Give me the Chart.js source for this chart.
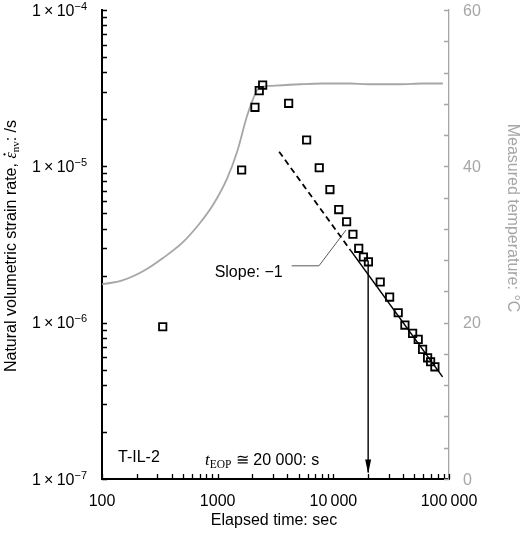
<!DOCTYPE html>
<html>
<head>
<meta charset="utf-8">
<script src="https://cdn.jsdelivr.net/npm/chart.js@4.4.1/dist/chart.umd.min.js"></script>
<style>
  html, body { margin: 0; padding: 0; background: #fff; }
</style>
</head>
<body>
<canvas id="chart" width="520" height="535"></canvas>
<script>
(function () {
  "use strict";

  // measured strain rate (open squares)
  const RATE_TIME = [335, 1612, 2101, 2289, 2449, 4109, 5877, 7552, 9346, 11135, 13030, 14770, 16580,
    18200, 20110, 25430, 30670, 36380, 41570, 48470, 54180, 59130, 65320, 69340, 75520];
  const RATE_VALUE = [9.41e-7, 9.47e-6, 2.385e-5, 3.05e-5, 3.31e-5, 2.53e-5, 1.474e-5, 9.8e-6, 7.1e-6,
    5.29e-6, 4.42e-6, 3.68e-6, 2.99e-6, 2.63e-6, 2.45e-6, 1.82e-6, 1.458e-6, 1.157e-6, 9.65e-7,
    8.54e-7, 7.82e-7, 6.75e-7, 5.96e-7, 5.62e-7, 5.22e-7];

  // measured temperature (grey line, right axis)
  const TEMP_TIME = [100, 150, 228, 339, 501, 703, 910, 1202, 1468, 1791, 2032, 2228, 2477,
    3000, 5140, 8000, 13900, 20000, 37700, 60000, 88500];
  const TEMP_VALUE = [24.9, 25.4, 26.6, 28.3, 30.3, 32.75, 35.05, 38.4, 41.8, 46.4, 48.7, 49.9, 50.2,
    50.3, 50.5, 50.6, 50.6, 50.5, 50.5, 50.6, 50.6];

  // slope -1 line
  const FIT_DASH_TIME = [3400, 14000];
  const FIT_DASH_VALUE = [1.24e-5, 2.92e-6];
  const FIT_SOLID_TIME = [14000, 88000];
  const FIT_SOLID_VALUE = [2.92e-6, 4.5e-7];

  // t_EOP arrow and slope callout
  const ARROW_TIME = [20000, 20000];
  const ARROW_VALUE = [2.5e-6, 1.1e-7];
  const CALLOUT_TIME = [4365, 7515, 12860];
  const CALLOUT_VALUE = [2.31e-6, 2.31e-6, 3.91e-6];

  // axes
  const X_TICKS = [100, 1000, 10000, 100000];
  const X_TICK_LABELS = ["100", "1000", "10\u2009000", "100\u2009000"];
  const Y_TICKS = [1e-7, 1e-6, 1e-5, 1e-4];
  const Y_TICK_EXP = ["\u22127", "\u22126", "\u22125", "\u22124"];
  const T_TICKS = [0, 20, 40, 60];
  const T_MINOR_STEP = 4;

  const GREY = "#a6a6a6";
  const SANS = "'Liberation Sans', Arial, sans-serif";
  const SERIF = "'Liberation Serif', 'Times New Roman', serif";

  const pts = (xs, ys) => xs.map((x, i) => ({ x: x, y: ys[i] }));

  // draw a run of differently styled text pieces
  function drawRun(ctx, parts, x, y, align, angle) {
    ctx.save();
    ctx.translate(x, y);
    if (angle) ctx.rotate(angle);
    ctx.textAlign = "left";
    ctx.textBaseline = "alphabetic";
    let total = 0;
    parts.forEach((p) => { ctx.font = p.font; p.w = ctx.measureText(p.text).width; total += p.w; });
    let cx = align === "center" ? -total / 2 : align === "right" ? -total : 0;
    parts.forEach((p) => {
      ctx.font = p.font;
      ctx.fillText(p.text, cx, p.dy || 0);
      if (p.dot) {
        ctx.beginPath();
        ctx.arc(cx + p.w / 2 + 1, -11.5, 1.1, 0, Math.PI * 2);
        ctx.fill();
      }
      cx += p.w;
    });
    ctx.restore();
  }

  const decorations = {
    id: "decorations",
    afterDraw(chart) {
      const ctx = chart.ctx;
      const sx = chart.scales.x, sy = chart.scales.y, st = chart.scales.t;
      const a = chart.chartArea;
      ctx.save();

      // inward tick marks
      ctx.lineWidth = 1.3;
      ctx.strokeStyle = "#000";
      ctx.beginPath();
      for (let e = 2; e <= 5; e++) {
        for (let m = 1; m <= 9; m++) {
          const v = m * Math.pow(10, e);
          if (v > 100000) break;
          const px = Math.round(sx.getPixelForValue(v)) + 0.5;
          ctx.moveTo(px, a.bottom); ctx.lineTo(px, a.bottom - 5);
        }
      }
      for (let e = -7; e <= -4; e++) {
        for (let m = 1; m <= 9; m++) {
          const v = m * Math.pow(10, e);
          if (v > 1.01e-4) break;
          const py = Math.round(sy.getPixelForValue(v)) + 0.5;
          ctx.moveTo(a.left, py); ctx.lineTo(a.left + 5, py);
        }
      }
      ctx.stroke();
      ctx.strokeStyle = GREY;
      ctx.beginPath();
      for (let v = 0; v <= 60; v += T_MINOR_STEP) {
        const py = Math.round(st.getPixelForValue(v)) + 0.5;
        ctx.moveTo(a.right, py); ctx.lineTo(a.right - 5, py);
      }
      ctx.stroke();

      // arrow head at t_EOP
      const ax = sx.getPixelForValue(ARROW_TIME[1]);
      const ay = sy.getPixelForValue(ARROW_VALUE[1]);
      ctx.fillStyle = "#000";
      ctx.beginPath();
      ctx.moveTo(ax, ay + 1);
      ctx.lineTo(ax - 3, ay - 13);
      ctx.lineTo(ax + 3, ay - 13);
      ctx.closePath();
      ctx.fill();

      // tick labels
      ctx.fillStyle = "#000";
      X_TICKS.forEach((v, i) => {
        drawRun(ctx, [{ text: X_TICK_LABELS[i], font: "16px " + SANS }], sx.getPixelForValue(v), a.bottom + 26.5, "center");
      });
      Y_TICKS.forEach((v, i) => {
        drawRun(ctx, [
          { text: "1\u2009\u00d7\u200910", font: "16px " + SANS },
          { text: Y_TICK_EXP[i], font: "11px " + SANS, dy: -6 },
        ], a.left - 15, sy.getPixelForValue(v) + 5.7, "right");
      });
      ctx.fillStyle = GREY;
      T_TICKS.forEach((v) => {
        drawRun(ctx, [{ text: String(v), font: "16px " + SANS }], a.right + 14, st.getPixelForValue(v) + 5.8, "left");
      });

      // axis titles
      ctx.fillStyle = "#000";
      drawRun(ctx, [{ text: "Elapsed time: sec", font: "16px " + SANS }], 274, 525, "center");
      drawRun(ctx, [
        { text: "Natural volumetric strain rate, ", font: "16px " + SANS },
        { text: "\u03b5", font: "italic 16px " + SERIF, dot: true },
        { text: "nv", font: "11px " + SERIF, dy: 3 },
        { text: ": /s", font: "16px " + SANS },
      ], 16, 246, "center", -Math.PI / 2);
      ctx.fillStyle = GREY;
      drawRun(ctx, [{ text: "Measured temperature: \u00b0C", font: "16px " + SANS }], 507.5, 218, "center", Math.PI / 2);

      // annotations
      ctx.fillStyle = "#000";
      const cx0 = sx.getPixelForValue(CALLOUT_TIME[0]);
      const cy0 = sy.getPixelForValue(CALLOUT_VALUE[0]);
      drawRun(ctx, [{ text: "Slope: \u22121", font: "16px " + SANS }], cx0 - 9, cy0 + 11, "right");
      drawRun(ctx, [{ text: "T-IL-2", font: "16px " + SANS }], a.left + 16, a.bottom - 17.5, "left");
      drawRun(ctx, [
        { text: "t", font: "italic 17px " + SERIF },
        { text: "EOP", font: "11.5px " + SERIF, dy: 2.5 },
        { text: " \u2245 20 000: s", font: "16px " + SANS },
      ], 205, a.bottom - 14, "left");

      ctx.restore();
    },
  };

  const ctx = document.getElementById("chart").getContext("2d");
  new Chart(ctx, {
    type: "scatter",
    data: {
      datasets: [
        {
          label: "strain rate", data: pts(RATE_TIME, RATE_VALUE), yAxisID: "y",
          pointStyle: "rect", pointRadius: 5.2, pointBorderWidth: 1.8,
          borderColor: "#000", backgroundColor: "rgba(0,0,0,0)", showLine: false,
        },
        {
          label: "slope dashed", data: pts(FIT_DASH_TIME, FIT_DASH_VALUE), yAxisID: "y",
          showLine: true, borderColor: "#000", borderWidth: 1.8, borderDash: [6, 4], pointRadius: 0,
        },
        {
          label: "slope solid", data: pts(FIT_SOLID_TIME, FIT_SOLID_VALUE), yAxisID: "y",
          showLine: true, borderColor: "#000", borderWidth: 1.5, pointRadius: 0,
        },
        {
          label: "t_EOP", data: pts(ARROW_TIME, ARROW_VALUE), yAxisID: "y",
          showLine: true, borderColor: "#000", borderWidth: 1.4, pointRadius: 0,
        },
        {
          label: "callout", data: pts(CALLOUT_TIME, CALLOUT_VALUE), yAxisID: "y",
          showLine: true, borderColor: "#595959", borderWidth: 1, pointRadius: 0,
        },
        {
          label: "temperature", data: pts(TEMP_TIME, TEMP_VALUE), yAxisID: "t",
          showLine: true, borderColor: GREY, borderWidth: 1.8, pointRadius: 0,
          cubicInterpolationMode: "monotone",
        },
      ],
    },
    options: {
      responsive: false, animation: false,
      layout: { padding: { top: 10, left: 0, right: 0, bottom: 0 } },
      plugins: { legend: { display: false }, tooltip: { enabled: false } },
      scales: {
        x: {
          type: "logarithmic", min: 100, max: 100000, position: "bottom",
          grid: { display: false, drawTicks: false }, ticks: { display: false },
          border: { display: true, color: "#000", width: 2 },
          afterFit: (s) => { s.height = 56; },
        },
        y: {
          type: "logarithmic", min: 1e-7, max: 1e-4, position: "left",
          grid: { display: false, drawTicks: false }, ticks: { display: false },
          border: { display: true, color: "#000", width: 2 },
          afterFit: (s) => { s.width = 102; },
        },
        t: {
          type: "linear", min: 0, max: 60, position: "right",
          grid: { display: false, drawTicks: false }, ticks: { display: false },
          border: { display: true, color: GREY, width: 1.3 },
          afterFit: (s) => { s.width = 71; },
        },
      },
    },
    plugins: [decorations],
  });
})();
</script>
</body>
</html>
